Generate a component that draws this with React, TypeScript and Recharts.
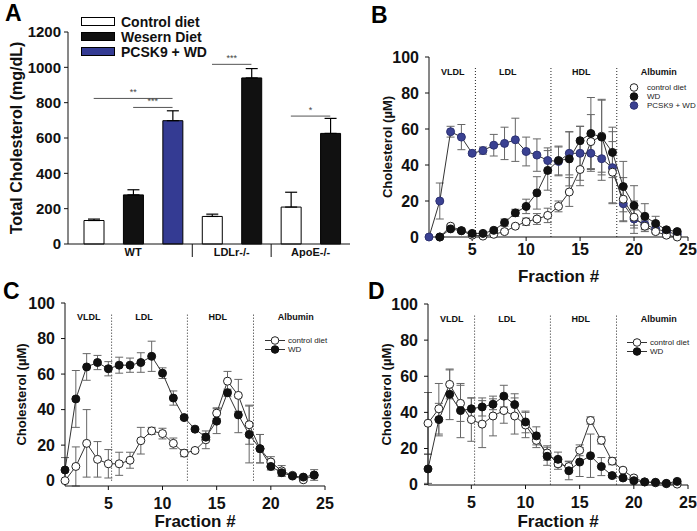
import React from "react";
import {
  BarChart,
  Bar,
  Cell,
  LineChart,
  Line,
  XAxis,
  YAxis,
  ErrorBar,
  ReferenceLine,
  ReferenceDot,
  Legend,
} from "recharts";

const FONT = "'Liberation Sans', Arial, Helvetica, sans-serif";

// ---------- panel A: total cholesterol ----------
const barNames = ["WT control", "WT WD", "WT PCSK9", "LDLr control", "LDLr WD", "ApoE control", "ApoE WD"];
const barGroups = [0, 0, 0, 1, 1, 2, 2];
const barKinds = [0, 1, 2, 0, 1, 0, 1];
const barValues = [133, 278, 698, 156, 940, 209, 626];
const barErrors = [8, 29, 56, 13, 53, 84, 85];
const groupNames = ["WT", "LDLr-/-", "ApoE-/-"];
const kindNames = ["Control diet", "Wesern Diet", "PCSK9 + WD"];
const kindColors = ["#ffffff", "#111111", "#343b93"];
const aTicks = [0, 200, 400, 600, 800, 1000, 1200];
const brackets = [
  { from: "WT control", to: "WT PCSK9", y: 824, stars: "**" },
  { from: "WT WD", to: "WT PCSK9", y: 773, stars: "***" },
  { from: "LDLr control", to: "LDLr WD", y: 1017, stars: "***" },
  { from: "ApoE control", to: "ApoE WD", y: 724, stars: "*" },
];

const barRows = barNames.map((name, i) => ({
  name,
  value: barValues[i],
  err: [0, barErrors[i]],
}));

// ---------- panels B-D: FPLC fractions ----------
const fractions = [1, 2, 3, 4, 5, 6, 7, 8, 9, 10, 11, 12, 13, 14, 15, 16, 17, 18, 19, 20, 21, 22, 23, 24];
const fracTicks = [5, 10, 15, 20, 25];
const cholTicks = [0, 20, 40, 60, 80, 100];
const regionNames = ["VLDL", "LDL", "HDL", "Albumin"];
const regionLabelX = [3.2, 8.3, 15.1, 22.3];
const regionBounds = [5.3, 12.3, 18.4];

// B: WT mice
const bControl = [null, 0, 6, 3.5, 1, 0.5, 1.5, 3, 6, 8.5, 10, 12, 17, 25, 37.5, 53, 56, 36, 21, 11, 6, 3, 1, 0];
const bControlErr = [0, 0, 1, 1, 0.5, 0.5, 0.5, 1, 1, 2, 3, 4, 3, 8, 9, 15, 20, 17, 12, 9, 3, 1, 1, 0];
const bWD = [null, 0, 4.5, 3.5, 2, 2, 3.7, 8, 13.4, 17, 24.5, 37, 42.5, 43.4, 53.5, 57.5, 55.5, 47, 28, 17.5, 11.5, 7.5, 4, 3];
const bWDErr = [0, 0, 1, 1, 1, 1, 1, 2, 2, 4, 9, 11, 8, 15, 8, 20, 21, 14, 14, 11, 7, 4, 1, 1];
const bPCSK9 = [0, 20, 58.5, 55.5, 46.5, 48, 51, 52, 54, 47.5, 45.5, 42.5, 42, 46.5, 46.5, 46.5, 43.5, 38.5, 18.5, 10, 7, 4.5, 3, 1.5];
const bPCSK9Err = [0, 10, 3, 7, 1, 2, 6, 9, 12, 8, 9, 7, 8, 12, 15, 10, 12, 20, 10, 5, 3, 2, 1, 1];

// C: LDLr-/- mice
const cControl = [0, 8, 21, 12, 9.5, 9.5, 11.5, 22.5, 28, 26.5, 21, 15.5, 17, 23, 38, 56, 48, 31.5, 18, 10.5, 5.5, 3, 0.5, 3];
const cControlErr = [0, 11, 19, 10, 8, 6.5, 4.5, 7.5, 2, 3, 3, 2, 1, 5, 3, 5.5, 9, 11, 8, 3, 3, 1, 1, 1];
const cWD = [6, 46, 64, 66.5, 63, 65, 65, 66.5, 70, 60.5, 46.5, 35.5, 29, 24.5, 33.5, 49.5, 37, 26, 18, 8, 4.5, 2.6, 2, 3.2];
const cWDErr = [7, 16, 7.5, 4, 4, 4.5, 4, 5.5, 8.5, 3, 4, 1, 1, 2, 7, 2, 10, 16, 8, 2, 2, 1, 1, 3];

// D: ApoE-/- mice
const dControl = [34, 42, 55.5, 45, 36, 33.5, 38, 41, 38, 33, 24.5, 17.5, 11.5, 10, 19, 35.5, 24.5, 13, 8, 3.7, 1.5, 1, 0.5, 0.3];
const dControlErr = [17, 14, 8, 10, 12, 13, 11, 7, 10, 7, 4, 4, 3, 3, 3, 2, 2, 2, 1, 1, 0.5, 0.5, 0.5, 0.5];
const dWD = [8.7, 36, 50, 41, 42, 43, 44.5, 49, 44.3, 34.7, 27, 15.7, 14, 7.7, 12.5, 16, 10, 5, 3.7, 2.2, 1.5, 1.3, 0.7, 1.8];
const dWDErr = [8, 9, 14, 15, 6, 5, 3, 6, 6, 6, 5, 5, 4, 5, 8, 12, 5, 1, 1, 1, 0.5, 0.5, 0.5, 1];

const seriesStyle: any = {
  control: { name: "control diet", fill: "#ffffff", stroke: "#222222" },
  wd: { name: "WD", fill: "#111111", stroke: "#111111" },
  pcsk9: { name: "PCSK9 + WD", fill: "#3a4192", stroke: "#2d3274" },
};

const bRows = fractions.map((x, i) => ({
  x,
  control: bControl[i],
  controlErr: bControlErr[i],
  wd: bWD[i],
  wdErr: bWDErr[i],
  pcsk9: bPCSK9[i],
  pcsk9Err: bPCSK9Err[i],
}));
const cRows = fractions.map((x, i) => ({
  x,
  control: cControl[i],
  controlErr: cControlErr[i],
  wd: cWD[i],
  wdErr: cWDErr[i],
}));
const dRows = fractions.map((x, i) => ({
  x,
  control: dControl[i],
  controlErr: dControlErr[i],
  wd: dWD[i],
  wdErr: dWDErr[i],
}));

const GroupTick = (props: any) => {
  const { x, y, payload } = props;
  const i = payload.index;
  const half = payload.offset || 20;
  const g = barGroups[i];
  const first = barGroups.indexOf(g);
  const last = barGroups.lastIndexOf(g);
  return (
    <g>
      {i === first && i > 0 && (
        <line x1={x - half} x2={x - half} y1={y} y2={y + 13} stroke="#111" strokeWidth={1} />
      )}
      {i === last && (
        <text
          x={x - (last - first) * half}
          y={y + 12}
          textAnchor="middle"
          fontSize={11}
          fontWeight={700}
          fill="#111"
        >
          {groupNames[g]}
        </text>
      )}
    </g>
  );
};

const BarLegend = () => (
  <div style={{ fontFamily: FONT }}>
    {kindNames.map((n, i) => (
      <div key={n} style={{ display: "flex", alignItems: "center", height: 15 }}>
        <div
          style={{
            width: 32,
            height: 7,
            background: kindColors[i],
            border: "1px solid #000",
            marginRight: 6,
          }}
        />
        <span style={{ fontSize: 14, fontWeight: 700, color: "#111", lineHeight: "14px", whiteSpace: "nowrap" }}>
          {n}
        </span>
      </div>
    ))}
  </div>
);

const PanelA = () => (
  <div style={{ position: "absolute", left: 0, top: 0 }}>
    <BarChart width={355} height={265} data={barRows} margin={{ top: 32, right: 5, bottom: 1, left: 0 }}>
      <XAxis
        dataKey="name"
        height={20}
        interval={0}
        padding={{ left: 6, right: 0 }}
        tickSize={0}
        tickMargin={0}
        tickLine={false}
        stroke="#111"
        tick={<GroupTick />}
      />
      <YAxis
        width={68}
        domain={[0, 1200]}
        ticks={aTicks}
        tickSize={4}
        tickMargin={3}
        stroke="#111"
        tick={{ fontSize: 15, fontWeight: 700, fill: "#111" }}
        label={{
          value: "Total Cholesterol (mg/dL)",
          angle: -90,
          position: "insideLeft",
          offset: 16,
          style: { textAnchor: "middle", fontSize: 16, fontWeight: 700, fill: "#111" },
        }}
      />
      <Legend
        layout="vertical"
        align="center"
        verticalAlign="middle"
        wrapperStyle={{ left: 81, top: 14, width: 200 }}
        content={<BarLegend />}
      />
      {brackets.map((b) => (
        <ReferenceLine
          key={b.from + b.to}
          segment={[
            { x: b.from, y: b.y },
            { x: b.to, y: b.y },
          ]}
          stroke="#555"
          strokeWidth={1}
          label={{ value: b.stars, position: "top", fontSize: 9, fill: "#444", offset: 3 }}
        />
      ))}
      <Bar dataKey="value" barSize={20} stroke="#000" strokeWidth={1} isAnimationActive={false}>
        {barRows.map((r, i) => (
          <Cell key={r.name} fill={kindColors[barKinds[i]]} />
        ))}
        <ErrorBar dataKey="err" width={6} stroke="#000" strokeWidth={1.2} direction="y" />
      </Bar>
    </BarChart>
  </div>
);

const FracLegend = ({ keys, withLine }: any) => (
  <div style={{ fontFamily: FONT }}>
    {keys.map((k: string) => (
      <div key={k} style={{ display: "flex", alignItems: "center", height: 9 }}>
        <svg width={20} height={9} style={{ marginRight: 3, flexShrink: 0 }}>
          {withLine && <line x1={0} x2={20} y1={4.5} y2={4.5} stroke="#333" strokeWidth={1} />}
          <circle cx={10} cy={4.5} r={3.8} fill={seriesStyle[k].fill} stroke={seriesStyle[k].stroke} />
        </svg>
        <span style={{ fontSize: 8, color: "#222", lineHeight: "9px", whiteSpace: "nowrap" }}>
          {seriesStyle[k].name}
        </span>
      </div>
    ))}
  </div>
);

const FractionPanel = ({
  rows,
  drawOrder,
  legendKeys,
  withLine,
  box,
  margin,
  yAxisWidth,
  xAxisHeight,
  xTickMargin,
  yTitleOffset,
  xTitleOffset,
  legendPos,
}: any) => (
  <div style={{ position: "absolute", left: box.left, top: box.top }}>
    <LineChart width={box.width} height={box.height} data={rows} margin={margin}>
      <XAxis
        type="number"
        dataKey="x"
        domain={[1, 25]}
        ticks={fracTicks}
        height={xAxisHeight}
        tickSize={4}
        tickMargin={xTickMargin}
        stroke="#111"
        tick={{ fontSize: 16, fontWeight: 700, fill: "#111" }}
        label={{
          value: "Fraction #",
          position: "insideBottom",
          offset: xTitleOffset,
          style: { fontSize: 17, fontWeight: 700, fill: "#111" },
        }}
      />
      <YAxis
        width={yAxisWidth}
        domain={[0, 100]}
        ticks={cholTicks}
        tickSize={4}
        tickMargin={6}
        stroke="#111"
        tick={{ fontSize: 16, fontWeight: 700, fill: "#111" }}
        label={{
          value: "Cholesterol (\u00b5M)",
          angle: -90,
          position: "insideLeft",
          offset: yTitleOffset,
          style: { textAnchor: "middle", fontSize: 13, fontWeight: 700, fill: "#111" },
        }}
      />
      {regionBounds.map((b) => (
        <ReferenceLine
          key={b}
          segment={[
            { x: b, y: 0 },
            { x: b, y: 94 },
          ]}
          stroke="#222"
          strokeWidth={1}
          strokeDasharray="1 2"
        />
      ))}
      {regionNames.map((n, i) => (
        <ReferenceDot
          key={n}
          x={regionLabelX[i]}
          y={92}
          r={0}
          stroke="none"
          label={{ value: n, position: "center", fontSize: 9, fontWeight: 700, fill: "#111" }}
        />
      ))}
      <Legend
        layout="vertical"
        align="center"
        verticalAlign="middle"
        wrapperStyle={{ left: legendPos.left, top: legendPos.top, width: 66 }}
        content={<FracLegend keys={legendKeys} withLine={withLine} />}
      />
      {drawOrder.map((k: string) => (
        <Line
          key={k}
          dataKey={k}
          name={seriesStyle[k].name}
          stroke="#333"
          strokeWidth={1}
          dot={{ r: 4, fill: seriesStyle[k].fill, stroke: seriesStyle[k].stroke, strokeWidth: 1 }}
          isAnimationActive={false}
        >
          <ErrorBar dataKey={k + "Err"} width={4} stroke="#666" strokeWidth={1} direction="y" />
        </Line>
      ))}
    </LineChart>
  </div>
);

const letterStyle = (left: number, top: number): React.CSSProperties => ({
  position: "absolute",
  left,
  top,
  fontSize: 23,
  fontWeight: 700,
  lineHeight: 1,
  color: "#000",
});

export default function App() {
  return (
    <div
      style={{
        position: "absolute",
        left: 0,
        top: 0,
        width: 697,
        height: 531,
        background: "#fff",
        fontFamily: FONT,
        overflow: "hidden",
      }}
    >
      <PanelA />
      <FractionPanel
        rows={bRows}
        drawOrder={["pcsk9", "control", "wd"]}
        legendKeys={["control", "wd", "pcsk9"]}
        withLine={false}
        box={{ left: 350, top: 0, width: 347, height: 290 }}
        margin={{ top: 57, right: 9, bottom: 3, left: 0 }}
        yAxisWidth={79}
        xAxisHeight={50}
        xTickMargin={3}
        yTitleOffset={37}
        xTitleOffset={5}
        legendPos={{ left: 274, top: 83 }}
      />
      <FractionPanel
        rows={cRows}
        drawOrder={["control", "wd"]}
        legendKeys={["control", "wd"]}
        withLine={true}
        box={{ left: 0, top: 265, width: 350, height: 266 }}
        margin={{ top: 38, right: 25, bottom: 0, left: 0 }}
        yAxisWidth={65}
        xAxisHeight={45}
        xTickMargin={8}
        yTitleOffset={21}
        xTitleOffset={4}
        legendPos={{ left: 265, top: 71 }}
      />
      <FractionPanel
        rows={dRows}
        drawOrder={["control", "wd"]}
        legendKeys={["control", "wd"]}
        withLine={true}
        box={{ left: 350, top: 265, width: 347, height: 266 }}
        margin={{ top: 39, right: 9, bottom: 0, left: 0 }}
        yAxisWidth={78}
        xAxisHeight={46}
        xTickMargin={8}
        yTitleOffset={36}
        xTitleOffset={4}
        legendPos={{ left: 277, top: 73 }}
      />
      <div style={letterStyle(5, 2)}>A</div>
      <div style={letterStyle(371, 4)}>B</div>
      <div style={letterStyle(3, 280)}>C</div>
      <div style={letterStyle(368, 280)}>D</div>
    </div>
  );
}
